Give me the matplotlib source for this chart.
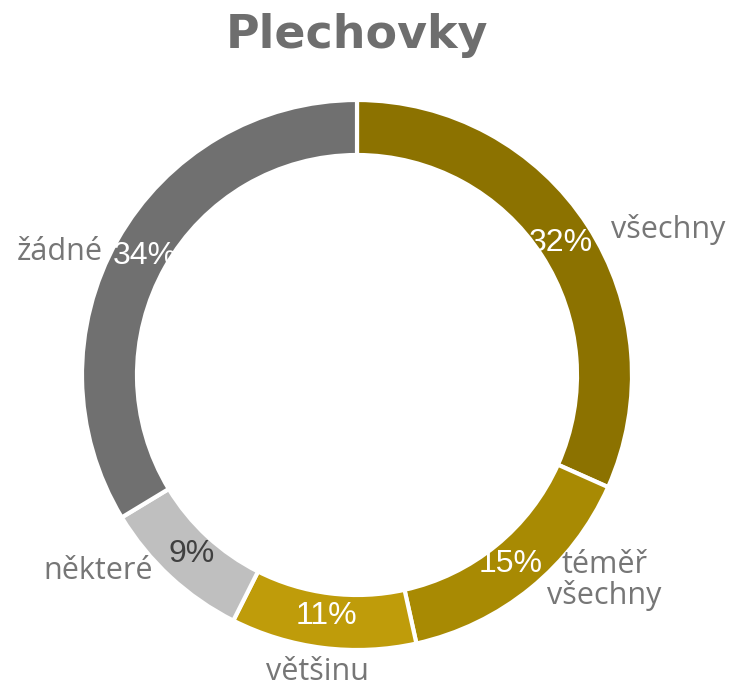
import matplotlib

matplotlib.use("Agg")
import matplotlib.pyplot as plt
import numpy as np

categories = ["všechny", "téměř\nvšechny", "většinu", "některé", "žádné"]
values = [32, 15, 11, 9, 34]
colors = ["#8C7200", "#A88A03", "#BF9C0A", "#BFBFBF", "#707070"]
pct_colors = ["white", "white", "white", "#404040", "white"]

# label placement tweaks (angle offset in degrees, radius factor)
label_pos = [(-8, 1.25), (11, 1.17), (-0.5, 1.09), (-10, 1.18), (7, 1.17)]

W, H = 739, 687
fig = plt.figure(figsize=(W / 100, H / 100), dpi=100, facecolor="white")
ax = fig.add_axes([0, 0, 1, 1])

cx, cy, R = 357, H - 375, 275
wedges, _ = ax.pie(
    values,
    colors=colors,
    startangle=90,
    counterclock=False,
    center=(cx, cy),
    radius=R,
    wedgeprops=dict(width=R * 0.2, edgecolor="white", linewidth=3),
    frame=True,
)
ax.set_xlim(0, W)
ax.set_ylim(0, H)
ax.set_aspect("equal")
ax.axis("off")

for w, val, lab, pc, (da, rf) in zip(wedges, values, categories, pct_colors, label_pos):
    mid = np.deg2rad((w.theta1 + w.theta2) / 2)
    r = R * 0.885
    ax.text(cx + r * np.cos(mid), cy + r * np.sin(mid), f"{val}%",
            ha="center", va="center", color=pc, fontsize=23,
            family="Liberation Sans")
    a = mid + np.deg2rad(da)
    ax.text(cx + R * rf * np.cos(a), cy + R * rf * np.sin(a), lab,
            ha="center", va="center", color="#767676", fontsize=22,
            family="Open Sans", linespacing=1.0)

ax.text(cx, H - 35, "Plechovky", ha="center", va="center", fontsize=33,
        fontweight="heavy", color="#6E6E6E", family="DejaVu Sans")

fig.savefig("out.png", dpi=100, facecolor="white")
plt.close(fig)
